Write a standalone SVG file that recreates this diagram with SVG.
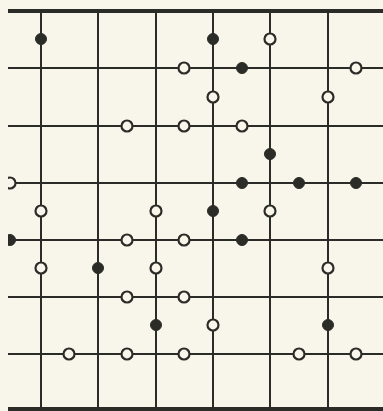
<svg xmlns="http://www.w3.org/2000/svg" width="383" height="411" viewBox="0 0 383 411">
<style>
.g{stroke:#2b2b27;stroke-width:2;fill:none}
.edge{stroke:#2b2b27;fill:none}
.o{fill:#f8f6ea;stroke:#2b2b27;stroke-width:2.2}
.f{fill:#2b2b27;stroke:#2b2b27;stroke-width:1}
</style>
<defs>
<clipPath id="c"><rect x="8" y="0" width="375" height="411"/></clipPath>
</defs>
<rect width="383" height="411" fill="#f8f6ea"/>
<g clip-path="url(#c)">
<g id="connectors">
<path class="edge" stroke-width="4" d="M8 11H383"/>
<path class="edge" stroke-width="4" d="M8 409H383"/>
<path class="g" d="M41 11V409M98 11V409M156 11V409M213 11V409M270 11V409M328 11V409"/>
<path class="g" d="M8 68H383M8 126H383M8 183H383M8 240H383M8 297H383M8 354H383"/>
</g>
<g id="filled">
<circle class="f" cx="41" cy="39" r="5.5"/>
<circle class="f" cx="213" cy="39" r="5.5"/>
<circle class="f" cx="242" cy="68" r="5.5"/>
<circle class="f" cx="270" cy="154" r="5.5"/>
<circle class="f" cx="242" cy="183" r="5.5"/>
<circle class="f" cx="299" cy="183" r="5.5"/>
<circle class="f" cx="356" cy="183" r="5.5"/>
<circle class="f" cx="213" cy="211" r="5.5"/>
<circle class="f" cx="10" cy="240" r="5.5"/>
<circle class="f" cx="242" cy="240" r="5.5"/>
<circle class="f" cx="98" cy="268" r="5.5"/>
<circle class="f" cx="156" cy="325" r="5.5"/>
<circle class="f" cx="328" cy="325" r="5.5"/>
</g>
<g id="open">
<circle class="o" cx="270" cy="39" r="5.5"/>
<circle class="o" cx="184" cy="68" r="5.5"/>
<circle class="o" cx="356" cy="68" r="5.5"/>
<circle class="o" cx="213" cy="97" r="5.5"/>
<circle class="o" cx="328" cy="97" r="5.5"/>
<circle class="o" cx="127" cy="126" r="5.5"/>
<circle class="o" cx="184" cy="126" r="5.5"/>
<circle class="o" cx="242" cy="126" r="5.5"/>
<circle class="o" cx="10" cy="183" r="5.5"/>
<circle class="o" cx="41" cy="211" r="5.5"/>
<circle class="o" cx="156" cy="211" r="5.5"/>
<circle class="o" cx="270" cy="211" r="5.5"/>
<circle class="o" cx="127" cy="240" r="5.5"/>
<circle class="o" cx="184" cy="240" r="5.5"/>
<circle class="o" cx="41" cy="268" r="5.5"/>
<circle class="o" cx="156" cy="268" r="5.5"/>
<circle class="o" cx="328" cy="268" r="5.5"/>
<circle class="o" cx="127" cy="297" r="5.5"/>
<circle class="o" cx="184" cy="297" r="5.5"/>
<circle class="o" cx="213" cy="325" r="5.5"/>
<circle class="o" cx="69" cy="354" r="5.5"/>
<circle class="o" cx="127" cy="354" r="5.5"/>
<circle class="o" cx="184" cy="354" r="5.5"/>
<circle class="o" cx="299" cy="354" r="5.5"/>
<circle class="o" cx="356" cy="354" r="5.5"/>
</g>
</g>
</svg>
